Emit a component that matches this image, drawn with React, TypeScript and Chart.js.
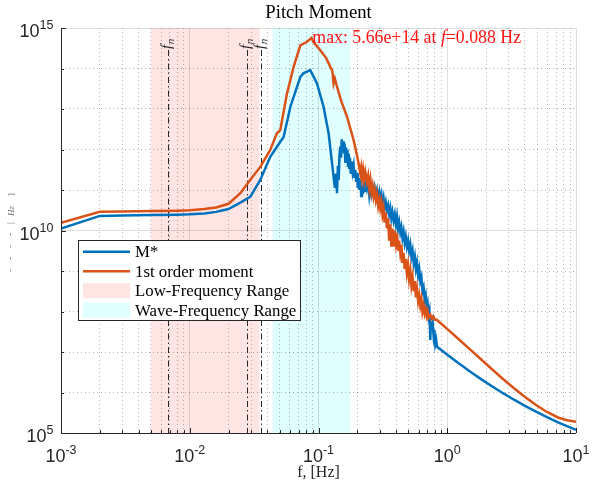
import React, { useEffect, useRef } from 'react';
import { Chart, registerables } from 'chart.js';

Chart.register(...registerables);

// ---------- Text ----------
const TITLE = 'Pitch Moment';
const X_TITLE = 'f, [Hz]';
const SERIES_NAMES = ['M*', '1st order moment'];
const RANGE_NAMES = ['Low-Frequency Range', 'Wave-Frequency Range'];

// ---------- Series: frequency [Hz] and log10 of spectral value ----------
const blueFreq = [
  0.001, 0.002, 0.003, 0.005, 0.008, 0.01, 0.013, 0.016, 0.02, 0.0247, 0.0295, 0.0353, 0.0422,
  0.0505, 0.0536, 0.0604, 0.0722, 0.0762, 0.0864, 0.0973, 0.1096, 0.1198,
  0.131, 0.134, 0.1365, 0.1392, 0.1415, 0.1435, 0.1455, 0.1476, 0.1495, 0.1515, 0.1535, 0.1555,
  0.1575, 0.1595, 0.1615, 0.1635, 0.1655, 0.1675, 0.1695, 0.1715, 0.1735, 0.1755, 0.178, 0.181,
  0.184, 0.1874, 0.19, 0.193, 0.196, 0.1991, 0.202, 0.205, 0.208, 0.211, 0.2145, 0.2177, 0.221,
  0.225, 0.229, 0.2335, 0.2381, 0.243, 0.248, 0.253, 0.258, 0.263, 0.2679, 0.273, 0.279, 0.285,
  0.291, 0.297, 0.302, 0.308, 0.314, 0.32, 0.326, 0.333, 0.34, 0.347, 0.354, 0.3612, 0.368, 0.375,
  0.383, 0.391, 0.399, 0.4071, 0.415, 0.423, 0.4318, 0.44, 0.449, 0.458, 0.467, 0.476, 0.486,
  0.496, 0.506, 0.5164, 0.527, 0.538, 0.549, 0.56, 0.571, 0.5821, 0.594, 0.606, 0.6176, 0.63,
  0.642, 0.6551, 0.668, 0.68, 0.692, 0.704, 0.7163, 0.727, 0.7384, 0.748, 0.759, 0.771, 0.7834,
  0.795, 0.807, 0.82, 0.833, 1.013, 1.234, 1.502, 1.829, 2.226, 2.71, 3.299, 4.017, 4.89, 5.954,
  7.248, 8.514, 10,
];
const blueLog = [
  10.05, 10.36, 10.37, 10.38, 10.39, 10.4, 10.42, 10.46, 10.53, 10.69, 10.83, 11.25, 11.82,
  12.19, 12.31, 13.05, 13.79, 13.88, 13.96, 13.63, 13.05, 12.4,
  11.33, 11.05, 11.4, 10.92, 11.6, 11.25, 11.85, 12.07, 11.8, 12.25, 11.95, 12.2,
  11.9, 12.15, 11.7, 12.05, 11.8, 12.0, 11.6, 11.9, 11.55, 11.8, 11.4, 11.7,
  11.45, 11.6, 11.3, 11.5, 11.2, 11.42, 11.05, 11.3, 11.0, 11.25, 10.85, 11.1, 10.9,
  11.2, 10.95, 11.25, 11.05, 11.2, 10.88, 11.12, 10.9, 11.05, 10.88, 11.05, 10.85, 11.0,
  10.8, 10.95, 10.78, 10.9, 10.65, 10.8, 10.55, 10.7, 10.5, 10.62, 10.4, 10.55, 10.3, 10.45,
  10.25, 10.4, 10.15, 10.34, 10.05, 10.2, 9.95, 10.08, 9.82, 9.97, 9.7, 9.85, 9.6,
  9.75, 9.5, 9.65, 9.35, 9.5, 9.2, 9.35, 9.05, 9.2, 8.9, 9.05, 8.75, 8.85,
  8.5, 8.6, 8.3, 8.4, 8.1, 8.2, 7.9, 8.0, 7.3, 7.75, 7.55, 7.7, 7.4,
  7.55, 7.2, 7.3, 7.13, 6.919, 6.714, 6.519, 6.331, 6.153, 5.983, 5.822, 5.669, 5.526, 5.39,
  5.264, 5.168, 5.081,
];

const orangeFreq = [
  0.001, 0.002, 0.003, 0.005, 0.008, 0.01, 0.013, 0.016, 0.02, 0.0247, 0.0295, 0.0353, 0.0422,
  0.0475, 0.0505, 0.0569, 0.0641, 0.0722, 0.0814, 0.088, 0.093, 0.1033, 0.115, 0.1235, 0.128,
  0.131, 0.134, 0.1392, 0.15, 0.1665, 0.1874, 0.193, 0.1991, 0.205, 0.2113, 0.2145, 0.218, 0.222,
  0.2265, 0.231, 0.2381, 0.243, 0.248, 0.253, 0.258, 0.263, 0.2679, 0.273, 0.279, 0.285, 0.291,
  0.297, 0.302, 0.308, 0.314, 0.32, 0.326, 0.333, 0.3404, 0.347, 0.354, 0.3612, 0.368, 0.375,
  0.3832, 0.391, 0.399, 0.4071, 0.415, 0.423, 0.4318, 0.44, 0.449, 0.458, 0.467, 0.476, 0.486,
  0.496, 0.506, 0.5164, 0.527, 0.538, 0.549, 0.56, 0.571, 0.5821, 0.594, 0.606, 0.6176, 0.63,
  0.642, 0.6551, 0.668, 0.68, 0.692, 0.704, 0.7163, 0.7384, 0.76, 0.78, 0.8, 0.833,
  1.013, 1.234, 1.502, 1.829, 2.226, 2.71, 3.299, 4.017, 4.89, 5.954, 7.248, 8.514, 10,
];
const orangeLog = [
  10.19, 10.46, 10.47, 10.48, 10.49, 10.5, 10.53, 10.57, 10.66, 10.92, 11.25, 11.57, 11.99,
  12.4, 12.48, 13.38, 14.04, 14.57, 14.66, 14.753, 14.62, 14.45, 14.25, 14.04, 13.95,
  13.63, 13.75, 13.55, 13.2, 12.81, 12.23, 12.05, 11.85, 11.65, 11.41, 11.55, 11.3, 11.5,
  11.25, 11.45, 11.2, 11.35, 11.05, 11.25, 10.95, 11.1, 10.85, 11.0, 10.75, 10.9, 10.6,
  10.75, 10.55, 10.7, 10.4, 10.55, 10.2, 10.45, 10.05, 10.3, 9.75, 10.15, 9.6, 10.05,
  9.6, 10.0, 9.7, 9.93, 9.5, 9.75, 9.45, 9.65, 9.2, 9.45, 9.05, 9.3, 8.95,
  9.15, 8.8, 9.0, 8.65, 8.85, 8.5, 8.75, 8.35, 8.55, 8.25, 8.4, 8.15, 8.3,
  8.0, 8.15, 7.95, 8.05, 7.9, 8.0, 7.85, 7.92, 7.82, 7.88, 7.8, 7.79,
  7.551, 7.309, 7.064, 6.82, 6.575, 6.333, 6.104, 5.889, 5.691, 5.519, 5.383, 5.314, 5.279,
];

// ---------- Ranges, markers, annotation ----------
const lowRange = [0.005, 0.0349];
const waveRange = [0.044, 0.1766];
const naturalFreqs = [0.00673, 0.0278, 0.0359];
const peakFreq = 0.088;
const peakValue = 5.66e14;

// ---------- Axes ----------
const xDecades = [-3, -2, -1, 0, 1];
const xTickLabels = ['-3', '-2', '-1', '0', '1'];
const yDecades = [5, 6, 7, 8, 9, 10, 11, 12, 13, 14, 15];
const yLabelDecades = [5, 10, 15];
const yTickLabels = ['5', '10', '15'];

const BLUE = 'rgb(0,114,189)';
const ORANGE = 'rgb(217,83,25)';
const PINK = 'rgb(255,228,228)';
const CYAN = 'rgb(224,255,255)';
const AXIS = '#262626';
const SERIF = '"Liberation Serif", "Times New Roman", serif';
const SANS = '"Liberation Sans", Arial, sans-serif';

const xGridValues: number[] = [];
xDecades.forEach((d) => {
  for (let m = 1; m <= 9; m++) {
    const v = m * Math.pow(10, d);
    if (v <= 10 + 1e-9) xGridValues.push(v);
  }
});
const yGridValues = yDecades.map((d) => Math.pow(10, d));

const isDecade = (v: number) => Math.abs(Math.log10(v) - Math.round(Math.log10(v))) < 1e-6;
const isYMajor = (v: number) => yLabelDecades.includes(Math.round(Math.log10(v)));

function drawPow(ctx: CanvasRenderingContext2D, exp: string, x: number, y: number, align: 'center' | 'right') {
  ctx.font = `18px ${SANS}`;
  const w1 = ctx.measureText('10').width;
  ctx.font = `12.5px ${SANS}`;
  const w2 = ctx.measureText(exp).width;
  const total = w1 + w2;
  const sx = align === 'center' ? x - total / 2 : x - total;
  ctx.textAlign = 'left';
  ctx.textBaseline = 'alphabetic';
  ctx.font = `18px ${SANS}`;
  ctx.fillText('10', sx, y);
  ctx.font = `12.5px ${SANS}`;
  ctx.fillText(exp, sx + w1, y - 8);
}

const decorPlugin = {
  id: 'decor',
  beforeDraw(chart: any) {
    const { ctx, chartArea: a, scales } = chart;
    const xs = scales.x;
    ctx.save();
    const shade = (r: number[], color: string) => {
      const x0 = xs.getPixelForValue(r[0]);
      const x1 = xs.getPixelForValue(r[1]);
      ctx.fillStyle = color;
      ctx.fillRect(x0, a.top, x1 - x0, a.bottom - a.top);
    };
    shade(lowRange, PINK);
    shade(waveRange, CYAN);
    ctx.restore();
  },
  beforeDatasetsDraw(chart: any) {
    const { ctx, chartArea: a, scales } = chart;
    const xs = scales.x;
    ctx.save();
    naturalFreqs.forEach((f) => {
      const px = Math.round(xs.getPixelForValue(f)) + 0.5;
      ctx.strokeStyle = AXIS;
      ctx.lineWidth = 1;
      ctx.setLineDash([6, 3, 1.5, 3]);
      ctx.beginPath();
      ctx.moveTo(px, 50);
      ctx.lineTo(px, a.bottom);
      ctx.stroke();
      ctx.setLineDash([]);
      ctx.save();
      ctx.translate(px + 2.5, 49);
      ctx.rotate(-Math.PI / 2);
      ctx.fillStyle = AXIS;
      ctx.textAlign = 'left';
      ctx.textBaseline = 'alphabetic';
      ctx.font = `italic 15px ${SERIF}`;
      ctx.fillText('f', 0, 0);
      const w = ctx.measureText('f').width;
      ctx.font = `italic 11px ${SERIF}`;
      ctx.fillText('n', w + 0.5, 3);
      ctx.restore();
    });
    ctx.restore();
  },
  afterDraw(chart: any) {
    const { ctx, chartArea: a, scales } = chart;
    const xs = scales.x;
    const ys = scales.y;
    ctx.save();
    ctx.strokeStyle = AXIS;
    ctx.lineWidth = 1;
    ctx.beginPath();
    ctx.moveTo(Math.round(a.left) + 0.5, a.top);
    ctx.lineTo(Math.round(a.left) + 0.5, Math.round(a.bottom) + 0.5);
    ctx.lineTo(a.right, Math.round(a.bottom) + 0.5);
    ctx.stroke();
    ctx.beginPath();
    xGridValues.forEach((v) => {
      const px = Math.round(xs.getPixelForValue(v)) + 0.5;
      const len = isDecade(v) ? 5 : 3;
      ctx.moveTo(px, a.bottom);
      ctx.lineTo(px, a.bottom - len);
    });
    yGridValues.forEach((v) => {
      const py = Math.round(ys.getPixelForValue(v)) + 0.5;
      const len = isYMajor(v) ? 5 : 3;
      ctx.moveTo(a.left, py);
      ctx.lineTo(a.left + len, py);
    });
    ctx.stroke();

    ctx.fillStyle = AXIS;
    xDecades.forEach((d, i) => {
      const px = xs.getPixelForValue(Math.pow(10, d));
      drawPow(ctx, xTickLabels[i], px, 462, 'center');
    });
    yLabelDecades.forEach((d, i) => {
      const py = ys.getPixelForValue(Math.pow(10, d));
      drawPow(ctx, yTickLabels[i], 53.5, py + 9, 'right');
    });

    const cx = (a.left + a.right) / 2;
    ctx.fillStyle = '#000';
    ctx.textAlign = 'center';
    ctx.textBaseline = 'alphabetic';
    ctx.font = `18.7px ${SERIF}`;
    ctx.fillText(TITLE, cx, 18);
    ctx.fillStyle = AXIS;
    ctx.font = `16px ${SERIF}`;
    ctx.fillText(X_TITLE, cx, 477);

    // clipped y-axis label remnants
    ctx.save();
    ctx.fillStyle = 'rgba(60,60,60,0.75)';
    ctx.translate(14, 216);
    ctx.rotate(-Math.PI / 2);
    ctx.textAlign = 'left';
    ctx.font = `italic 9px ${SERIF}`;
    ctx.fillText('Hz', 0, 0);
    ctx.font = `9px ${SERIF}`;
    ctx.fillText(']', 20, 0);
    ctx.fillText('|', -8, -1);
    ctx.fillText('-    -    -    -', -56, -1);
    ctx.restore();

    // peak annotation
    const tx = xs.getPixelForValue(peakFreq);
    const ty = ys.getPixelForValue(peakValue);
    ctx.fillStyle = 'rgb(255,20,20)';
    ctx.textAlign = 'left';
    ctx.textBaseline = 'middle';
    const parts: [string, boolean][] = [
      ['max: 5.66e+14 at ', false],
      ['f', true],
      ['=0.088 Hz', false],
    ];
    let ax = tx + 1;
    parts.forEach(([s, it]) => {
      ctx.font = `${it ? 'italic ' : ''}17.8px ${SERIF}`;
      ctx.fillText(s, ax, ty);
      ax += ctx.measureText(s).width;
    });

    // legend
    const lx = 78.5, ly = 240.5, lw = 222, lh = 80;
    ctx.fillStyle = '#fff';
    ctx.fillRect(lx, ly, lw, lh);
    ctx.strokeStyle = AXIS;
    ctx.lineWidth = 1;
    ctx.strokeRect(lx, ly, lw, lh);
    const rows = [251.7, 271.2, 290.8, 310.2];
    const sx0 = 83, sx1 = 130, tx0 = 135;
    [BLUE, ORANGE].forEach((c, i) => {
      ctx.strokeStyle = c;
      ctx.lineWidth = 2.5;
      ctx.beginPath();
      ctx.moveTo(sx0, rows[i]);
      ctx.lineTo(sx1, rows[i]);
      ctx.stroke();
    });
    [PINK, CYAN].forEach((c, i) => {
      ctx.fillStyle = c;
      ctx.fillRect(sx0, rows[i + 2] - 7.5, sx1 - sx0, 15);
    });
    ctx.fillStyle = '#000';
    ctx.font = `16.8px ${SERIF}`;
    ctx.textBaseline = 'middle';
    const names = [...SERIES_NAMES, ...RANGE_NAMES];
    names.forEach((n, i) => ctx.fillText(n, tx0, rows[i] + 1));
    ctx.restore();
  },
};

export default function App() {
  const canvasRef = useRef<HTMLCanvasElement | null>(null);

  useEffect(() => {
    const canvas = canvasRef.current;
    if (!canvas) return;
    const blueData = blueFreq.map((f, i) => ({ x: f, y: Math.pow(10, blueLog[i]) }));
    const orangeData = orangeFreq.map((f, i) => ({ x: f, y: Math.pow(10, orangeLog[i]) }));

    const chart = new Chart(canvas, {
      type: 'line',
      data: {
        datasets: [
          {
            label: SERIES_NAMES[0],
            data: blueData,
            borderColor: BLUE,
            backgroundColor: BLUE,
            borderWidth: 2.5,
            pointRadius: 0,
            fill: false,
            tension: 0,
            order: 1,
          },
          {
            label: SERIES_NAMES[1],
            data: orangeData,
            borderColor: ORANGE,
            backgroundColor: ORANGE,
            borderWidth: 2.5,
            pointRadius: 0,
            fill: false,
            tension: 0,
            order: 0,
          },
        ],
      },
      options: {
        animation: false,
        responsive: false,
        maintainAspectRatio: false,
        events: [],
        layout: { padding: { left: 61, right: 18, top: 28, bottom: 52 } },
        plugins: {
          legend: { display: false },
          tooltip: { enabled: false },
          title: { display: false },
        },
        scales: {
          x: {
            type: 'logarithmic',
            min: 0.001,
            max: 10,
            afterBuildTicks: (s: any) => {
              s.ticks = xGridValues.map((v) => ({ value: v }));
            },
            ticks: { display: false },
            grid: {
              drawTicks: false,
              lineWidth: 1,
              color: (c: any) =>
                c.tick && isDecade(c.tick.value) ? 'rgba(0,0,0,0.13)' : 'rgba(0,0,0,0.28)',
            },
            border: {
              display: false,
              dash: (c: any) => (c.tick && isDecade(c.tick.value) ? [] : [1, 3]),
            },
          },
          y: {
            type: 'logarithmic',
            min: 1e5,
            max: 1e15,
            afterBuildTicks: (s: any) => {
              s.ticks = yGridValues.map((v) => ({ value: v }));
            },
            ticks: { display: false },
            grid: {
              drawTicks: false,
              lineWidth: 1,
              color: (c: any) =>
                c.tick && isYMajor(c.tick.value) ? 'rgba(0,0,0,0.13)' : 'rgba(0,0,0,0.28)',
            },
            border: {
              display: false,
              dash: (c: any) => (c.tick && isYMajor(c.tick.value) ? [] : [1, 3]),
            },
          },
        },
      } as any,
      plugins: [decorPlugin],
    });
    return () => chart.destroy();
  }, []);

  return (
    <div style={{ position: 'absolute', left: 0, top: 0, width: 594, height: 485, background: '#fff' }}>
      <canvas ref={canvasRef} width={594} height={485} style={{ display: 'block' }} />
    </div>
  );
}
